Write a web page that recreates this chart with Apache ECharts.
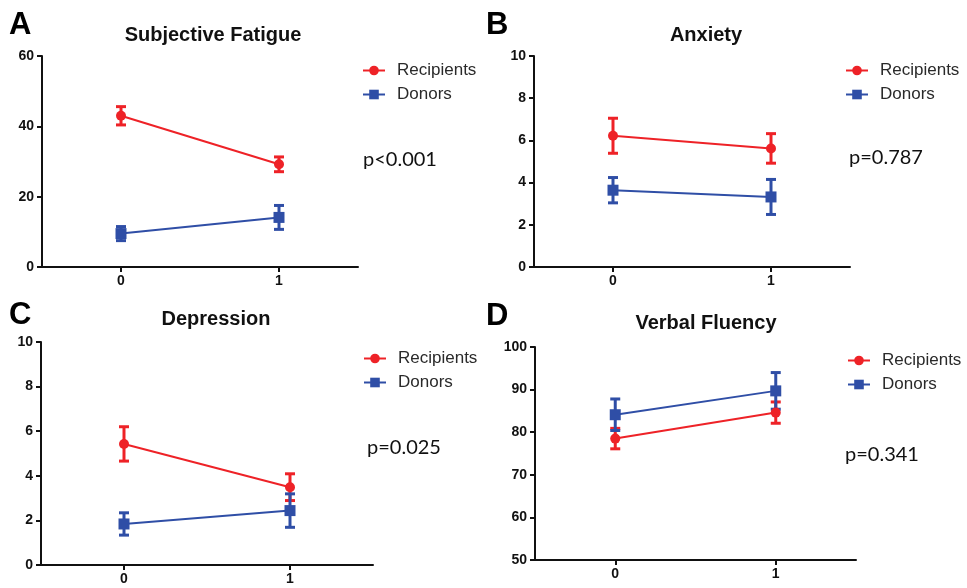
<!DOCTYPE html>
<html>
<head>
<meta charset="utf-8">
<script src="https://cdn.jsdelivr.net/npm/echarts@6/dist/echarts.min.js"></script>
<style>
html,body{margin:0;padding:0;background:#fff;}
#c{width:967px;height:588px;}
</style>
</head>
<body>
<div id="c"></div>
<script>
// ---- data ----
const timepoints = [0, 1];
const panelTitles = ['Subjective Fatigue', 'Anxiety', 'Depression', 'Verbal Fluency'];
const panelLetters = ['A', 'B', 'C', 'D'];
const pValues = ['p<0.001', 'p=0.787', 'p=0.025', 'p=0.341'];
const yMins = [0, 0, 0, 50];
const yMaxs = [60, 10, 10, 100];
const yIntervals = [20, 2, 2, 10];

const fatigueRecipients = [43.0, 29.2];
const fatigueRecipientsErr = [2.6, 2.1];
const fatigueDonors = [9.5, 14.1];
const fatigueDonorsErr = [2.0, 3.4];

const anxietyRecipients = [6.22, 5.62];
const anxietyRecipientsErr = [0.83, 0.7];
const anxietyDonors = [3.64, 3.32];
const anxietyDonorsErr = [0.6, 0.83];

const depressionRecipients = [5.43, 3.49];
const depressionRecipientsErr = [0.77, 0.6];
const depressionDonors = [1.84, 2.44];
const depressionDonorsErr = [0.5, 0.75];

const fluencyRecipients = [78.5, 84.6];
const fluencyRecipientsErr = [2.4, 2.5];
const fluencyDonors = [84.1, 89.7];
const fluencyDonorsErr = [3.7, 4.3];

const recipients = [fatigueRecipients, anxietyRecipients, depressionRecipients, fluencyRecipients];
const recipientsErr = [fatigueRecipientsErr, anxietyRecipientsErr, depressionRecipientsErr, fluencyRecipientsErr];
const donors = [fatigueDonors, anxietyDonors, depressionDonors, fluencyDonors];
const donorsErr = [fatigueDonorsErr, anxietyDonorsErr, depressionDonorsErr, fluencyDonorsErr];

// ---- layout ----
const RED = '#ee2227';
const BLUE = '#2f4ea6';
const grids = [
  {left: 42, top: 56, width: 316, height: 211},
  {left: 534, top: 56, width: 316, height: 211},
  {left: 41, top: 342, width: 332, height: 223},
  {left: 535, top: 347, width: 321, height: 213}
];
const titlePos = [[213, 35], [706, 35], [216, 319], [706, 323]];
const letterPos = [[9, 25], [486, 25], [9, 315], [486, 316]];
const legendPos = [[362, 62], [845, 62], [363, 350], [847, 352]];
const pPos = [[363, 160], [849, 158], [367, 448], [845, 455]];

const axisFont = 'Liberation Sans, Arial, sans-serif';

const xAxes = [], yAxes = [], series = [], legends = [], graphics = [];

function errSeries(idx, vals, errs, color) {
  return {
    type: 'custom',
    xAxisIndex: idx, yAxisIndex: idx,
    silent: true,
    z: 2,
    data: timepoints.map((t, i) => [t, vals[i] - errs[i], vals[i] + errs[i]]),
    renderItem: function (params, api) {
      const lo = api.coord([api.value(0), api.value(1)]);
      const hi = api.coord([api.value(0), api.value(2)]);
      const hw = 5;
      const st = {stroke: color, lineWidth: 3};
      return {
        type: 'group',
        children: [
          {type: 'line', shape: {x1: lo[0], y1: lo[1], x2: hi[0], y2: hi[1]}, style: st},
          {type: 'line', shape: {x1: lo[0] - hw, y1: lo[1], x2: lo[0] + hw, y2: lo[1]}, style: st},
          {type: 'line', shape: {x1: hi[0] - hw, y1: hi[1], x2: hi[0] + hw, y2: hi[1]}, style: st}
        ]
      };
    }
  };
}

for (let i = 0; i < 4; i++) {
  xAxes.push({
    type: 'value', gridIndex: i, min: -0.5, max: 1.5,
    axisLine: {show: true, onZero: false, lineStyle: {color: '#111', width: 2}},
    axisTick: {show: true, customValues: timepoints, length: 5, lineStyle: {color: '#111', width: 2}},
    axisLabel: {customValues: timepoints, color: '#111', fontWeight: 'bold', fontSize: 14, fontFamily: axisFont, margin: 7},
    splitLine: {show: false}
  });
  yAxes.push({
    type: 'value', gridIndex: i, min: yMins[i], max: yMaxs[i], interval: yIntervals[i],
    axisLine: {show: true, onZero: false, lineStyle: {color: '#111', width: 2}},
    axisTick: {show: true, length: 5, lineStyle: {color: '#111', width: 2}},
    axisLabel: {color: '#111', fontWeight: 'bold', fontSize: 14, fontFamily: axisFont, margin: 8},
    splitLine: {show: false}
  });
  series.push(errSeries(i, recipients[i], recipientsErr[i], RED));
  series.push(errSeries(i, donors[i], donorsErr[i], BLUE));
  series.push({
    name: 'Recipients', type: 'line', xAxisIndex: i, yAxisIndex: i,
    data: timepoints.map((t, k) => [t, recipients[i][k]]),
    symbol: 'circle', symbolSize: 10, z: 3,
    lineStyle: {color: RED, width: 2}, itemStyle: {color: RED},
    animation: false
  });
  series.push({
    name: 'Donors', type: 'line', xAxisIndex: i, yAxisIndex: i,
    data: timepoints.map((t, k) => [t, donors[i][k]]),
    symbol: 'rect', symbolSize: 11, z: 3,
    lineStyle: {color: BLUE, width: 2}, itemStyle: {color: BLUE},
    animation: false
  });
  legends.push({
    data: ['Recipients', 'Donors'], orient: 'vertical',
    left: legendPos[i][0], top: legendPos[i][1], padding: 0,
    itemWidth: 22, itemHeight: 12, itemGap: 7, selectedMode: false,
    textStyle: {fontSize: 17, color: '#2a2a2a', fontFamily: axisFont, padding: [0, 0, 0, 7]}
  });
  graphics.push({
    type: 'text', x: titlePos[i][0], y: titlePos[i][1],
    style: {text: panelTitles[i], font: 'bold 20px ' + axisFont, fill: '#111', align: 'center', verticalAlign: 'middle'}
  });
  graphics.push({
    type: 'text', x: letterPos[i][0], y: letterPos[i][1],
    style: {text: panelLetters[i], font: 'bold 31px ' + axisFont, fill: '#000', verticalAlign: 'middle'}
  });
  graphics.push({
    type: 'text', x: pPos[i][0], y: pPos[i][1],
    style: {text: pValues[i], font: '20px Lato, "Open Sans", sans-serif', fill: '#111', verticalAlign: 'middle'}
  });
}

const chart = echarts.init(document.getElementById('c'));
chart.setOption({
  animation: false,
  backgroundColor: '#fff',
  grid: grids,
  xAxis: xAxes,
  yAxis: yAxes,
  legend: legends,
  series: series,
  graphic: graphics
});
</script>
</body>
</html>
